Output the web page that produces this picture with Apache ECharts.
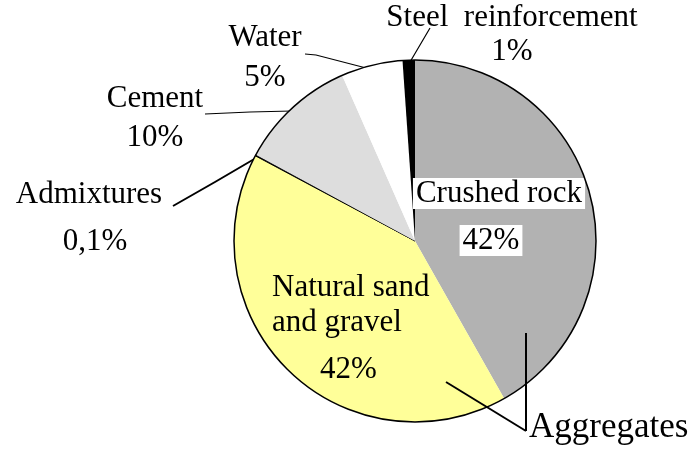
<!DOCTYPE html>
<html><head><meta charset="utf-8">
<script src="https://cdn.jsdelivr.net/npm/echarts@6/dist/echarts.min.js"></script>
<style>html,body{margin:0;padding:0;background:#fff}#c{width:699px;height:454px}</style>
</head><body><div id="c"></div>
<script>
const categories = ['Crushed rock', 'Natural sand and gravel', 'Admixtures', 'Cement', 'Water', 'Steel  reinforcement'];
const shares = [41.8, 41.0, 0.1, 10.5, 5.5, 1.1];
const percentLabels = ['42%', '42%', '0,1%', '10%', '5%', '1%'];
const colors = ['#b2b2b2', '#ffff99', '#000000', '#dddddd', '#ffffff', '#000000'];
const groupLabel = 'Aggregates';

const FF = '"Liberation Serif", "Times New Roman", serif';
const FS = 31;

function rs(extra) { return Object.assign({fontFamily: FF, fontSize: FS, color: '#000'}, extra || {}); }

// label formatters / layouts per slice index
const labelCfg = {
  0: { position: 'inside',
       text: '{w|' + categories[0] + '}\n{g| }\n{w|' + percentLabels[0] + '}{s| }',
       rich: { w: rs({lineHeight: 37, backgroundColor: '#fff', padding: [0, 3]}), g: rs({fontSize: 1, lineHeight: 10}), s: rs({width: 16}) },
       layout: {x: 499, y: 175, align: 'center', verticalAlign: 'top'} },
  1: { position: 'inside',
       text: '{n|Natural sand}\n{n|and gravel}\n{p|' + percentLabels[1] + '}',
       rich: { n: rs({lineHeight: 35}), p: rs({lineHeight: 59, padding: [0, 0, 0, 48]}) },
       layout: {x: 272, y: 270.5, align: 'left', verticalAlign: 'top'} },
  2: { position: 'outside',
       text: '{a|' + categories[2] + '}\n{b|' + percentLabels[2] + '}',
       rich: { a: rs({lineHeight: 47}), b: rs({lineHeight: 47, padding: [0, 0, 0, 12]}) },
       layout: {x: 89, y: 171.5, align: 'center', verticalAlign: 'top', labelLinePoints: [[256, 158], [215, 182], [173, 206]]},
       lineWidth: 2 },
  3: { position: 'outside',
       text: '{a|' + categories[3] + '}\n{a|' + percentLabels[3] + '}',
       rich: { a: rs({lineHeight: 39}) },
       layout: {x: 155, y: 79.5, align: 'center', verticalAlign: 'top', labelLinePoints: [[292, 111], [250, 112], [205, 114]]},
       lineWidth: 1.2 },
  4: { position: 'outside',
       text: '{a|' + categories[4] + '}\n{a|' + percentLabels[4] + '}',
       rich: { a: rs({lineHeight: 40}) },
       layout: {x: 265, y: 18, align: 'center', verticalAlign: 'top', labelLinePoints: [[370, 69], [316, 55], [305, 54]]},
       lineWidth: 1.2 },
  5: { position: 'outside',
       text: '{a|' + categories[5] + '}\n{a|' + percentLabels[5] + '}',
       rich: { a: rs({lineHeight: 34}) },
       layout: {x: 512, y: 1, align: 'center', verticalAlign: 'top', labelLinePoints: [[410, 62], [420, 45], [430, 28]]},
       lineWidth: 1.2 }
};

const data = categories.map((name, i) => {
  const c = labelCfg[i];
  return {
    name: name,
    value: shares[i],
    itemStyle: { color: colors[i], borderWidth: i === 2 ? 1 : 0, borderColor: '#000' },
    label: { show: true, position: c.position, formatter: c.text, rich: c.rich, fontFamily: FF, fontSize: FS, color: '#000' },
    labelLine: { show: c.position === 'outside', lineStyle: { color: '#000', width: c.lineWidth || 1.2 } }
  };
});

const chart = echarts.init(document.getElementById('c'), null, {renderer: 'canvas'});
chart.setOption({
  backgroundColor: '#fff',
  animation: false,
  series: [
    {
      type: 'pie',
      center: [415, 241],
      radius: 181,
      startAngle: 90,
      clockwise: true,
      avoidLabelOverlap: false,
      silent: true,
      data: data,
      labelLayout: function (params) {
        const c = labelCfg[params.dataIndex];
        return c ? c.layout : {};
      }
    },
    {
      type: 'pie',
      center: [415, 241],
      radius: 181,
      silent: true,
      z: 5,
      label: { show: false },
      labelLine: { show: false },
      itemStyle: { color: 'rgba(0,0,0,0)', borderColor: '#000', borderWidth: 1.5 },
      data: [{ value: 1, name: 'outline' }]
    }
  ],
  graphic: [
    { type: 'polyline', shape: { points: [[526, 333], [526, 431]] }, style: { stroke: '#000', lineWidth: 2, fill: null }, z: 10 },
    { type: 'polyline', shape: { points: [[446, 382], [526, 431]] }, style: { stroke: '#000', lineWidth: 2, fill: null }, z: 10 },
    { type: 'text', x: 529, y: 428, style: { text: groupLabel, font: '35px ' + FF, fill: '#000', textAlign: 'left', textVerticalAlign: 'middle' }, z: 10 }
  ]
});
</script>
</body></html>
